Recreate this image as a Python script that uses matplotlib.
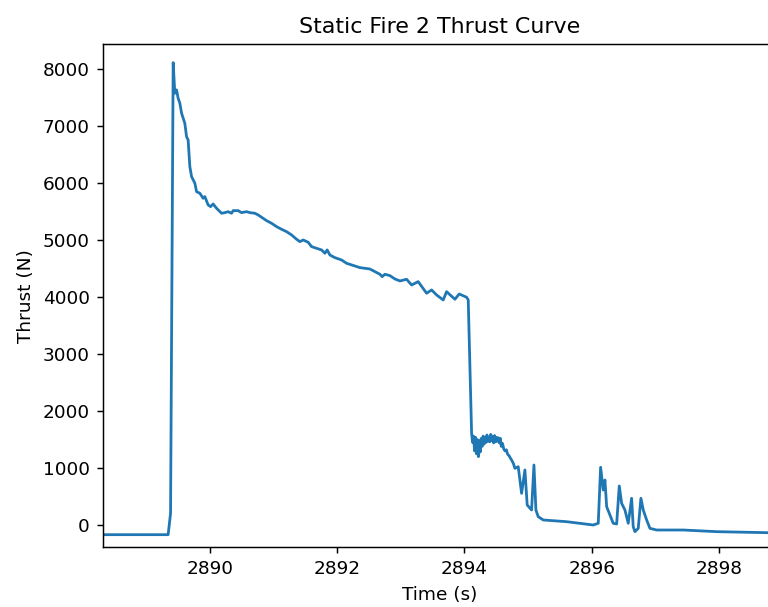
import matplotlib
matplotlib.use("Agg")
import matplotlib.pyplot as plt

# Load-cell thrust trace from static fire 2 (time in s, thrust in N)
time_s = [
    2888.20, 2889.348, 2889.386, 2889.427, 2889.453, 2889.480, 2889.505, 2889.532,
    2889.559, 2889.610, 2889.637, 2889.662, 2889.689, 2889.716, 2889.768, 2889.794,
    2889.846, 2889.898, 2889.925, 2889.976, 2890.014, 2890.055, 2890.108, 2890.187,
    2890.239, 2890.291, 2890.344, 2890.369, 2890.448, 2890.501, 2890.580, 2890.631,
    2890.710, 2890.762, 2890.815, 2890.894, 2890.972, 2891.051, 2891.129, 2891.208,
    2891.287, 2891.365, 2891.417, 2891.469, 2891.547, 2891.601, 2891.679, 2891.758,
    2891.810, 2891.846, 2891.888, 2891.967, 2892.072, 2892.150, 2892.229, 2892.308,
    2892.359, 2892.438, 2892.516, 2892.595, 2892.674, 2892.710, 2892.752, 2892.831,
    2892.909, 2892.988, 2893.093, 2893.172, 2893.275, 2893.407, 2893.486, 2893.564,
    2893.668, 2893.721, 2893.852, 2893.919, 2894.035, 2894.061, 2894.087, 2894.098,
    2894.114, 2894.130, 2894.145, 2894.160, 2894.175, 2894.190, 2894.205, 2894.220,
    2894.235, 2894.250, 2894.265, 2894.280, 2894.295, 2894.310, 2894.325, 2894.340,
    2894.355, 2894.370, 2894.385, 2894.400, 2894.415, 2894.430, 2894.445, 2894.460,
    2894.475, 2894.490, 2894.505, 2894.520, 2894.535, 2894.550, 2894.565, 2894.580,
    2894.600, 2894.620, 2894.640, 2894.660, 2894.680, 2894.700, 2894.720, 2894.742,
    2894.770, 2894.794, 2894.846, 2894.899, 2894.951, 2894.987, 2895.056, 2895.093,
    2895.124, 2895.160, 2895.239, 2895.606, 2896.024, 2896.103, 2896.140, 2896.181,
    2896.208, 2896.235, 2896.338, 2896.392, 2896.433, 2896.470, 2896.522, 2896.574,
    2896.627, 2896.652, 2896.679, 2896.731, 2896.773, 2896.810, 2896.863, 2896.915,
    2897.020, 2897.438, 2897.963, 2898.768, 2899.000,
]

thrust_n = [
    -170, -170, 205, 8116, 7579, 7637, 7491, 7403,
    7228, 7052, 6817, 6759, 6290, 6115, 5999, 5851,
    5823, 5735, 5764, 5618, 5588, 5635, 5560, 5472,
    5483, 5500, 5472, 5518, 5518, 5483, 5500, 5483,
    5472, 5442, 5402, 5342, 5296, 5237, 5191, 5149,
    5091, 5016, 4974, 5003, 4963, 4886, 4858, 4828,
    4770, 4828, 4740, 4693, 4652, 4594, 4565, 4535,
    4518, 4506, 4494, 4447, 4401, 4359, 4401, 4377,
    4319, 4284, 4313, 4213, 4272, 4068, 4126, 4038,
    3950, 4096, 3962, 4055, 3998, 3950, 2779, 2312,
    1610, 1450, 1560, 1300, 1540, 1250, 1500, 1200,
    1480, 1280, 1520, 1380, 1560, 1420, 1540, 1450,
    1580, 1470, 1540, 1460, 1590, 1480, 1550, 1440,
    1570, 1460, 1540, 1470, 1530, 1440, 1520, 1380,
    1430, 1330, 1300, 1320, 1240, 1220, 1180, 1141,
    1080, 995, 1023, 556, 966, 351, 263, 1053,
    263, 146, 88, 58, 0, 30, 1013, 614,
    790, 321, 30, 18, 685, 381, 263, 30,
    469, -29, -117, -59, 469, 263, 88, -59,
    -88, -88, -117, -135, -140,
]

x_ticks = [2890, 2892, 2894, 2896, 2898]
y_ticks = [0, 1000, 2000, 3000, 4000, 5000, 6000, 7000, 8000]

DPI = 133
fig = plt.figure(figsize=(768 / DPI, 607 / DPI), dpi=DPI)
ax = fig.add_axes([0.1337, 0.0984, 0.878, 0.8292])

ax.plot(time_s, thrust_n, color="#1f77b4", linewidth=1.5)

ax.set_xlim(2888.32, 2898.91)
ax.set_ylim(-391, 8444)
ax.set_xticks(x_ticks)
ax.set_yticks(y_ticks)

ax.set_title("Static Fire 2 Thrust Curve")
ax.set_xlabel("Time (s)")
ax.set_ylabel("Thrust (N)")

fig.savefig("out.png", dpi=DPI)
